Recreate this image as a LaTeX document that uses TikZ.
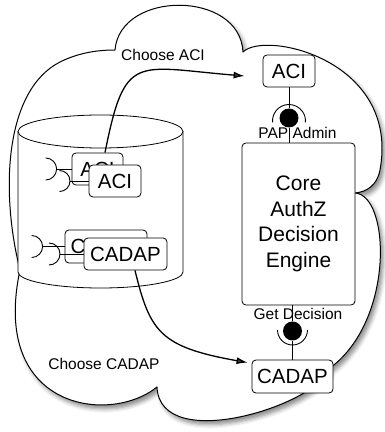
\documentclass[tikz,border=0pt]{standalone}
\usepackage{fontspec}
\setmainfont{Liberation Sans}
\usetikzlibrary{shapes, arrows.meta, shadows.blur}
\tikzstyle{block} = [rectangle, draw, fill=white, rounded corners=4pt, inner sep=0pt,
    line width=0.8pt, font=\fontsize{20.5}{24}\selectfont]
\tikzstyle{engine} = [block, minimum width=113pt, minimum height=162pt, align=center,
    font=\fontsize{21}{25.5}\selectfont]
\tikzstyle{info} = [inner sep=0pt, font=\fontsize{15.5}{18}\selectfont]
\tikzstyle{line} = [draw, line width=1.3pt, -{Latex[length=11pt,width=7pt]}]
\tikzstyle{wire} = [draw, line width=0.9pt]
\tikzstyle{ball} = [circle, fill=black, inner sep=0pt, minimum size=19pt]

\begin{document}
\begin{tikzpicture}[x=1pt, y=1pt, line join=round]
        \useasboundingbox (0,0) rectangle (385,432);
        % Cloud
        \path [draw, fill=white, line width=1pt,
            blur shadow={shadow xshift=3pt, shadow yshift=-4pt, shadow blur radius=4pt, shadow opacity=45}]
            (20,162) .. controls (0,242) and (5,342) .. (60,370)
            .. controls (80,380) and (100,382) .. (115,382)
            .. controls (120,442) and (240,442) .. (243,380)
            .. controls (265,402) and (400,372) .. (380,262)
            .. controls (377,246) and (366,240) .. (355,239)
            .. controls (390,237) and (395,112) .. (330,64)
            .. controls (318,27) and (160,-23) .. (157,45)
            .. controls (110,7) and (-10,22) .. (20,162) -- cycle;
        % Store
        \filldraw [fill=white, line width=0.8pt] (18,300.5) -- (18,160)
            arc [start angle=180, end angle=360, x radius=82.5, y radius=16] -- (183,300.5) -- cycle;
        \filldraw [fill=white, line width=0.8pt] (100.5,300.5) ellipse [x radius=82.5, y radius=16.5];
        % Place nodes
        \node [block, minimum width=51pt, minimum height=32pt] (backACI) at (97.5,263) {ACI};
        \draw [wire] (backACI.west) -- ++(-15,0) coordinate (backACIs);
        \draw [wire] ([shift={(-11,11)}]backACIs) arc [start angle=90, end angle=-90, radius=11];
        \draw [wire] (89,251) -- ++(-19,0) coordinate (frontACIs);
        \draw [wire] ([shift={(-10.5,10.5)}]frontACIs) arc [start angle=90, end angle=-90, radius=10.5];
        \node [block, minimum width=52pt, minimum height=32pt] (frontACI) at (115,251) {ACI};
        \node [block, minimum width=82pt, minimum height=33pt] (backCADAP) at (106,185.5) {CADAP};
        \draw [wire] (backCADAP.west) -- ++(-22,0) coordinate (backCADAPs);
        \draw [wire] ([shift={(-11,11)}]backCADAPs) arc [start angle=90, end angle=-90, radius=11];
        \draw [wire] (84,178) -- ++(-24,0) coordinate (frontCADAPs);
        \draw [wire] ([shift={(-11,11)}]frontCADAPs) arc [start angle=90, end angle=-90, radius=11];
        \node [block, minimum width=83pt, minimum height=32pt] (frontCADAP) at (125.5,178) {CADAP};
        \node [block, minimum width=52pt, minimum height=32pt] (topACI) at (289,361) {ACI};
        \node [engine] (engine) at (298.5,208) {Core\\AuthZ\\Decision\\Engine};
        \node [block, minimum width=81pt, minimum height=33pt] (bottomCADAP) at (292.5,55.5) {CADAP};
        % Interfaces
        \node [ball] (papBall) at (289,314) {};
        \draw [wire] ([shift={(-16.44,-4.44)}]papBall.center) arc [start angle=185, end angle=-5, radius=16.5];
        \draw [wire] (topACI) -- (papBall);
        \draw [wire] (papBall) -- (papBall |- engine.north);
        \node [ball] (decBall) at (292.5,101) {};
        \draw [wire] ([shift={(-15,1)}]decBall.center) arc [start angle=180, end angle=360, radius=15];
        \draw [wire] (decBall) -- (decBall |- engine.south);
        \draw [wire] (bottomCADAP) -- (decBall);
        % Info nodes
        \node [info] (papLabel) at (297.5,299) {PAP Admin};
        \node [info] (decLabel) at (298,118) {Get Decision};
        \node [info] (chooseACI) at (163,377) {Choose ACI};
        \node [info] (chooseCADAP) at (104,68) {Choose CADAP};
        % Draw edges
        \path [line] ([xshift=7.5]backACI.north) .. controls (125,380) and (135,365) .. ([xshift=-18,yshift=-5]topACI.west);
        \path [line] ([xshift=9.5]frontCADAP.south) .. controls (150,100) and (160,85) .. ([xshift=-4,yshift=-3]bottomCADAP.north west);
\end{tikzpicture}
\end{document}
